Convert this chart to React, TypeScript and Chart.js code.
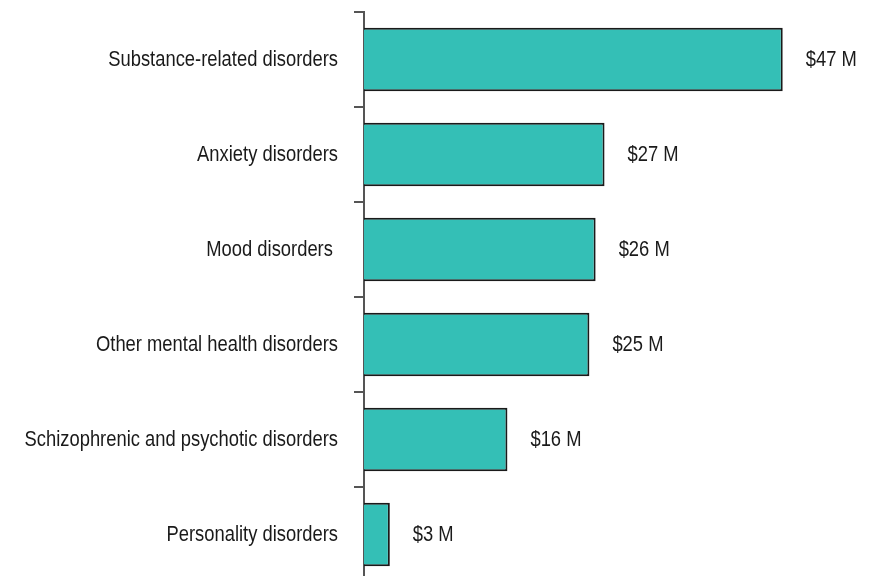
import React, { useEffect, useRef } from "react";
import { Chart, registerables } from "chart.js";

Chart.register(...registerables);

const categories = [
  "Substance-related disorders",
  "Anxiety disorders",
  "Mood disorders ",
  "Other mental health disorders",
  "Schizophrenic and psychotic disorders",
  "Personality disorders",
];
const values = [47, 27, 26, 25.3, 16.1, 2.9];
const valueLabels = ["$47 M", "$27 M", "$26 M", "$25 M", "$16 M", "$3 M"];

const FONT = "'Liberation Sans', Arial, sans-serif";
const SQUEEZE = 0.835;

function drawNarrow(ctx: CanvasRenderingContext2D, text: string, x: number, y: number, align: CanvasTextAlign) {
  ctx.save();
  ctx.translate(x, y);
  ctx.scale(SQUEEZE, 1);
  ctx.textAlign = align;
  ctx.textBaseline = "middle";
  ctx.fillText(text, 0, 0);
  ctx.restore();
}

export default function App() {
  const ref = useRef<HTMLCanvasElement | null>(null);
  useEffect(() => {
    if (!ref.current) return;
    const labelPlugin = {
      id: "narrowLabels",
      afterDraw(chart: any) {
        const ctx = chart.ctx;
        const meta = chart.getDatasetMeta(0);
        const yScale = chart.scales.y;
        ctx.save();
        ctx.font = `22px ${FONT}`;
        ctx.fillStyle = "#1a1a1a";
        meta.data.forEach((bar: any, i: number) => {
          drawNarrow(ctx, valueLabels[i], bar.x + 23, bar.y, "left");
          const yy = yScale.getPixelForValue(i);
          drawNarrow(ctx, categories[i], yScale.right - 26, yy, "right");
        });
        ctx.restore();
      },
    };
    const chart = new Chart(ref.current, {
      type: "bar",
      data: {
        labels: categories,
        datasets: [
          {
            data: values,
            backgroundColor: "#34bfb6",
            borderColor: "#1a1a1a",
            borderWidth: 2,
            barPercentage: 0.67,
            categoryPercentage: 1,
          },
        ],
      },
      options: {
        indexAxis: "y",
        animation: false,
        responsive: false,
        maintainAspectRatio: false,
        layout: { padding: { top: 12, right: 23, bottom: 8, left: 0 } },
        plugins: { legend: { display: false }, tooltip: { enabled: false } },
        scales: {
          x: { display: false, min: 0, max: 55 },
          y: {
            offset: true,
            afterFit: (scale: any) => {
              scale.width = 364;
              scale.paddingTop = 0;
              scale.paddingBottom = 0;
            },
            grid: {
              drawOnChartArea: false,
              offset: true,
              tickLength: 10,
              color: "#555",
              lineWidth: 2,
            },
            border: { color: "#555", width: 2 },
            ticks: { display: false },
          },
        },
      },
      plugins: [labelPlugin],
    });
    return () => chart.destroy();
  }, []);
  return (
    <div style={{ position: "absolute", left: 0, top: 0, width: 877, height: 590 }}>
      <canvas ref={ref} width={877} height={590} style={{ width: 877, height: 590 }} />
    </div>
  );
}
